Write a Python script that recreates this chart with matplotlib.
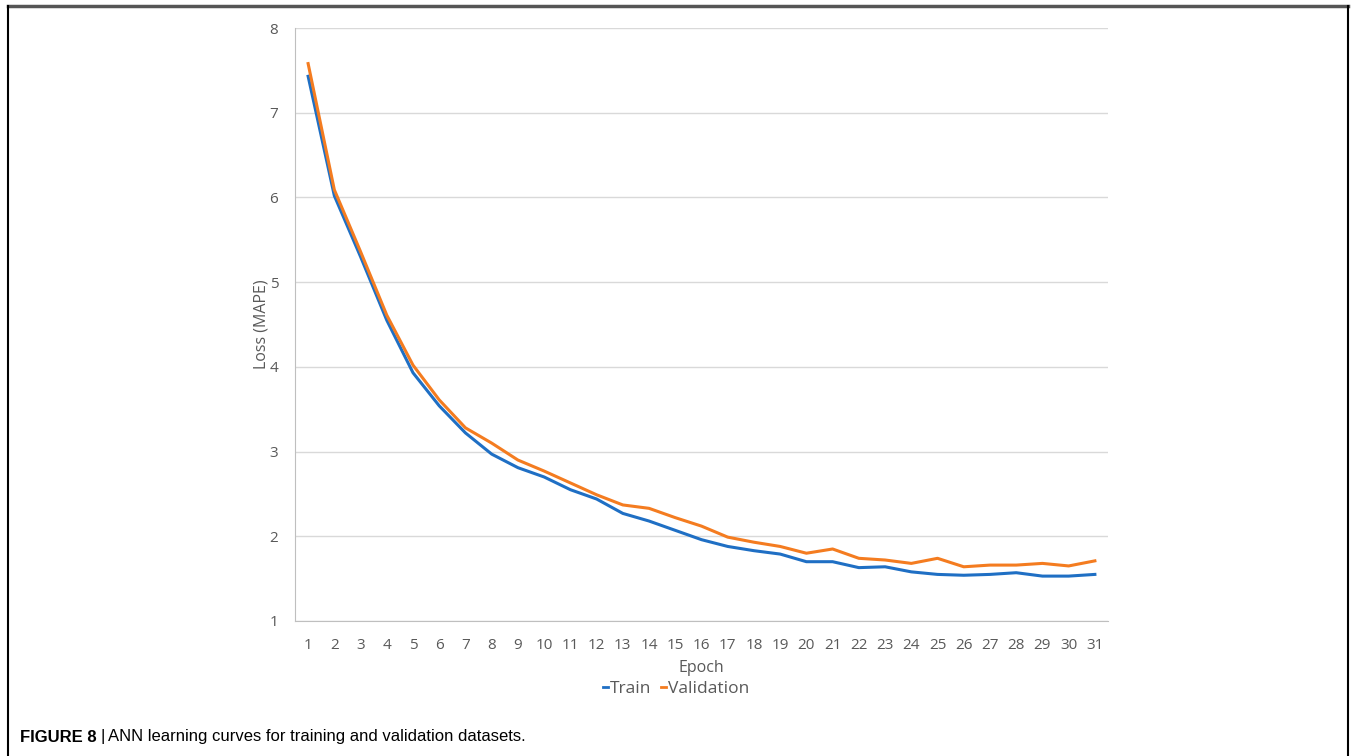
"""
ANN learning curves (train vs validation loss)
"""
import matplotlib
import matplotlib.pyplot as plt
from matplotlib.lines import Line2D
matplotlib.use('Agg')

epochs = list(range(1, 32))
train_loss = [7.43, 6.02, 5.30, 4.55, 3.93, 3.54, 3.22, 2.97, 2.81, 2.70,
              2.55, 2.44, 2.27, 2.18, 2.07, 1.96, 1.88, 1.83, 1.79, 1.70,
              1.70, 1.63, 1.64, 1.58, 1.55, 1.54, 1.55, 1.57, 1.53, 1.53,
              1.55]
val_loss = [7.58, 6.09, 5.36, 4.61, 4.02, 3.61, 3.28, 3.10, 2.90, 2.77,
            2.63, 2.49, 2.37, 2.33, 2.22, 2.12, 1.99, 1.93, 1.88, 1.80,
            1.85, 1.74, 1.72, 1.68, 1.74, 1.64, 1.66, 1.66, 1.68, 1.65,
            1.71]
y_ticks = [1, 2, 3, 4, 5, 6, 7, 8]

BLUE = '#1f6fc4'
ORANGE = '#f47c20'
TXT = '#595959'
FONT = ['Open Sans', 'DejaVu Sans']

fig = plt.figure(figsize=(13.56, 7.56), dpi=100)
W, H = 1356, 756
ax = fig.add_axes([295 / W, 1 - 621 / H, (1108 - 295) / W, (621 - 28) / H])

ax.plot(epochs, train_loss, color=BLUE, lw=2.2, solid_joinstyle='round')
ax.plot(epochs, val_loss, color=ORANGE, lw=2.2, solid_joinstyle='round')

ax.set_xlim(0.5, 31.5)
ax.set_ylim(1, 8)
ax.set_yticks(y_ticks)
ax.set_xticks(epochs)
ax.grid(axis='y', color='#d9d9d9', lw=1)
ax.set_axisbelow(True)
for s in ['top', 'right']:
    ax.spines[s].set_visible(False)
for s in ['left', 'bottom']:
    ax.spines[s].set_color('#bfbfbf')
ax.tick_params(length=0, labelsize=11, colors=TXT)
for lab in ax.get_xticklabels() + ax.get_yticklabels():
    lab.set_family(FONT)
ax.tick_params(axis='x', pad=12)
ax.tick_params(axis='y', pad=12)

ax.set_xlabel('Epoch', fontsize=11.5, color=TXT, family=FONT, labelpad=5)
ax.set_ylabel('Loss (MAPE)', fontsize=11.5, color=TXT, family=FONT, labelpad=0)

handles = [Line2D([], [], color=BLUE, lw=2), Line2D([], [], color=ORANGE, lw=2)]
fig.legend(handles, ['Train', 'Validation'], loc='center',
           bbox_to_anchor=(676 / W, 1 - 689 / H), ncol=2, frameon=False,
           handlelength=0.3, handletextpad=0.1, columnspacing=0.6,
           prop={'family': FONT, 'size': 12.5}, labelcolor=TXT)

# outer frame of the figure panel
fig.add_artist(Line2D([8 / W, 1348 / W], [1 - 6 / H, 1 - 6 / H],
                      color='#555555', lw=2.5, transform=fig.transFigure))
fig.add_artist(Line2D([8 / W, 8 / W], [1 - 6 / H, 0],
                      color='black', lw=1.5, transform=fig.transFigure))
fig.add_artist(Line2D([1348 / W, 1348 / W], [1 - 6 / H, 0],
                      color='black', lw=1.5, transform=fig.transFigure))

fig.text(20 / W, 1 - 737 / H, 'FIGURE 8', fontsize=12, weight='bold',
         family='Liberation Sans', va='center')
fig.text(100 / W, 1 - 737 / H, '|', fontsize=12, family='Liberation Sans',
         va='center')
fig.text(108 / W, 1 - 737 / H, 'ANN learning curves for training and validation datasets.',
         fontsize=12, family='Liberation Sans', va='center')

fig.savefig('out.png', dpi=100)
